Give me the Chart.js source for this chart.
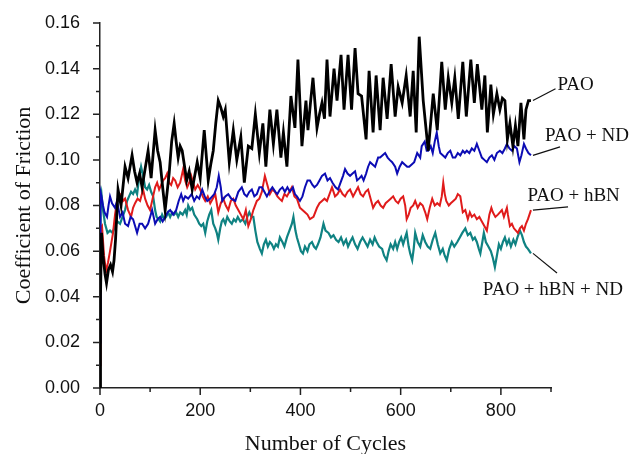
<!DOCTYPE html>
<html>
<head>
<meta charset="utf-8">
<script src="https://cdn.jsdelivr.net/npm/chart.js@4/dist/chart.umd.min.js"></script>
<style>
  html, body { margin: 0; padding: 0; background: #fff; }
  #wrap { width: 641px; height: 454px; }
</style>
</head>
<body>
<div id="wrap"><canvas id="cofChart" width="641" height="454"></canvas></div>
<script>
// [cycle, coefficient of friction]
const pao = [[0,0.000],[1,0.040],[3,0.068],[6,0.058],[10,0.050],[13,0.046],[17,0.052],[21,0.054],[25,0.051],[28,0.056],[31,0.065],[36,0.087],[42,0.080],[50,0.097],[56,0.092],[64,0.102],[69,0.095],[74,0.090],[79,0.094],[84,0.088],[90,0.096],[96,0.104],[102,0.092],[110,0.113],[115,0.104],[120,0.099],[125,0.088],[130,0.078],[138,0.094],[143,0.108],[148,0.116],[152,0.108],[156,0.101],[160,0.106],[164,0.104],[173,0.091],[178,0.095],[184,0.087],[189,0.093],[194,0.099],[200,0.092],[208,0.113],[216,0.091],[221,0.098],[226,0.104],[231,0.116],[236,0.126],[241,0.123],[246,0.119],[250,0.122],[258,0.099],[266,0.113],[273,0.100],[281,0.110],[288,0.090],[296,0.106],[303,0.105],[310,0.120],[318,0.103],[325,0.116],[331,0.097],[339,0.122],[346,0.107],[353,0.122],[361,0.101],[366,0.112],[373,0.097],[381,0.128],[389,0.114],[395,0.144],[403,0.106],[411,0.126],[415,0.113],[420,0.125],[425,0.136],[433,0.114],[438,0.120],[443,0.125],[448,0.118],[453,0.144],[459,0.119],[467,0.140],[473,0.126],[481,0.146],[487,0.122],[495,0.146],[502,0.122],[509,0.149],[515,0.129],[522,0.128],[531,0.109],[537,0.139],[545,0.112],[551,0.137],[559,0.113],[565,0.136],[573,0.118],[581,0.142],[589,0.119],[595,0.132],[603,0.125],[611,0.137],[619,0.119],[625,0.139],[631,0.112],[637,0.154],[645,0.126],[655,0.104],[665,0.129],[673,0.113],[682,0.143],[689,0.122],[695,0.136],[702,0.125],[708,0.136],[715,0.118],[724,0.143],[731,0.119],[740,0.144],[747,0.125],[753,0.142],[762,0.122],[768,0.137],[773,0.112],[780,0.133],[785,0.120],[792,0.129],[798,0.122],[803,0.127],[808,0.126],[813,0.109],[818,0.116],[824,0.106],[829,0.115],[834,0.106],[840,0.125],[846,0.109],[850,0.122],[855,0.126],[860,0.126]];

const paoNd = [[0,0.020],[1,0.086],[3,0.084],[6,0.080],[9,0.077],[14,0.075],[17,0.080],[20,0.084],[24,0.081],[30,0.079],[34,0.082],[40,0.075],[45,0.077],[50,0.072],[56,0.071],[61,0.075],[66,0.074],[70,0.071],[74,0.068],[79,0.072],[84,0.072],[90,0.070],[96,0.072],[100,0.075],[104,0.078],[110,0.072],[115,0.074],[120,0.075],[125,0.073],[130,0.075],[135,0.077],[140,0.078],[146,0.076],[152,0.078],[157,0.082],[162,0.085],[166,0.082],[170,0.084],[176,0.083],[183,0.085],[188,0.082],[193,0.084],[198,0.083],[204,0.087],[209,0.084],[214,0.082],[220,0.083],[228,0.085],[233,0.088],[237,0.093],[241,0.088],[244,0.082],[250,0.084],[256,0.085],[262,0.083],[270,0.082],[276,0.086],[283,0.088],[288,0.085],[293,0.084],[298,0.086],[303,0.087],[308,0.084],[313,0.085],[318,0.088],[323,0.088],[328,0.086],[333,0.084],[338,0.086],[344,0.088],[350,0.086],[354,0.085],[359,0.087],[364,0.088],[369,0.086],[374,0.088],[379,0.086],[385,0.088],[389,0.085],[393,0.084],[399,0.082],[404,0.084],[409,0.088],[414,0.091],[419,0.091],[424,0.089],[428,0.088],[433,0.089],[438,0.091],[443,0.093],[449,0.094],[454,0.091],[459,0.092],[464,0.090],[470,0.088],[475,0.087],[480,0.090],[485,0.093],[489,0.096],[494,0.094],[499,0.093],[504,0.094],[509,0.095],[513,0.091],[518,0.092],[522,0.093],[526,0.091],[531,0.094],[535,0.097],[539,0.099],[544,0.098],[549,0.097],[555,0.101],[559,0.101],[564,0.102],[569,0.103],[574,0.101],[578,0.100],[583,0.099],[589,0.097],[593,0.094],[598,0.097],[603,0.099],[608,0.098],[613,0.097],[617,0.097],[622,0.098],[627,0.099],[633,0.103],[639,0.101],[642,0.106],[648,0.108],[652,0.104],[655,0.104],[660,0.106],[664,0.103],[668,0.108],[672,0.112],[676,0.106],[679,0.103],[684,0.102],[689,0.101],[694,0.103],[699,0.104],[704,0.101],[709,0.101],[714,0.103],[719,0.102],[724,0.104],[728,0.103],[732,0.104],[737,0.103],[742,0.105],[747,0.104],[752,0.107],[757,0.104],[762,0.101],[767,0.100],[772,0.099],[777,0.101],[782,0.102],[787,0.100],[792,0.103],[798,0.104],[803,0.103],[808,0.105],[812,0.107],[817,0.105],[822,0.104],[827,0.106],[832,0.105],[837,0.099],[841,0.102],[846,0.107],[850,0.105],[855,0.103],[860,0.102]];

const paoHbn = [[0,0.010],[1,0.070],[4,0.071],[8,0.058],[12,0.051],[16,0.055],[20,0.060],[26,0.068],[30,0.076],[34,0.082],[38,0.084],[42,0.085],[46,0.082],[50,0.083],[56,0.078],[62,0.075],[66,0.079],[70,0.081],[75,0.083],[80,0.082],[86,0.087],[90,0.083],[95,0.080],[100,0.078],[105,0.083],[110,0.088],[114,0.090],[118,0.087],[122,0.089],[126,0.091],[130,0.092],[134,0.094],[138,0.090],[142,0.089],[146,0.092],[150,0.091],[155,0.088],[160,0.090],[166,0.096],[170,0.091],[174,0.088],[178,0.090],[182,0.093],[186,0.090],[190,0.087],[195,0.089],[200,0.087],[205,0.084],[210,0.082],[215,0.084],[220,0.081],[225,0.083],[230,0.085],[236,0.077],[241,0.081],[246,0.083],[251,0.080],[256,0.078],[261,0.082],[266,0.083],[271,0.080],[276,0.078],[281,0.076],[286,0.074],[291,0.078],[296,0.071],[301,0.074],[306,0.078],[313,0.082],[318,0.083],[323,0.086],[329,0.093],[334,0.089],[339,0.085],[344,0.087],[349,0.086],[354,0.084],[358,0.083],[363,0.082],[368,0.085],[373,0.084],[378,0.086],[383,0.088],[388,0.084],[393,0.083],[399,0.079],[404,0.078],[409,0.077],[414,0.076],[419,0.074],[426,0.075],[433,0.079],[438,0.081],[443,0.082],[448,0.083],[453,0.082],[458,0.085],[463,0.088],[469,0.084],[474,0.085],[479,0.087],[484,0.085],[489,0.084],[494,0.086],[499,0.087],[505,0.084],[510,0.086],[515,0.088],[520,0.085],[525,0.084],[530,0.086],[535,0.087],[540,0.083],[545,0.079],[550,0.081],[555,0.082],[560,0.080],[565,0.079],[570,0.081],[575,0.082],[580,0.083],[585,0.084],[590,0.082],[595,0.081],[600,0.083],[605,0.084],[609,0.080],[612,0.074],[616,0.076],[620,0.079],[625,0.080],[629,0.082],[634,0.079],[639,0.081],[644,0.080],[649,0.077],[653,0.074],[658,0.079],[663,0.083],[668,0.080],[673,0.081],[678,0.080],[682,0.084],[685,0.090],[688,0.085],[691,0.082],[696,0.080],[700,0.081],[705,0.082],[710,0.083],[714,0.085],[719,0.084],[724,0.077],[729,0.078],[734,0.074],[738,0.077],[742,0.075],[747,0.076],[752,0.074],[757,0.075],[762,0.073],[767,0.071],[772,0.069],[777,0.076],[781,0.079],[784,0.077],[789,0.075],[794,0.076],[798,0.077],[802,0.078],[806,0.075],[812,0.079],[814,0.076],[818,0.071],[822,0.072],[826,0.070],[830,0.069],[834,0.068],[838,0.070],[842,0.071],[846,0.069],[850,0.072],[854,0.074],[857,0.076],[860,0.078]];

const paoHbnNd = [[0,0.030],[1,0.082],[3,0.085],[6,0.078],[10,0.072],[15,0.068],[20,0.069],[25,0.068],[30,0.071],[35,0.073],[40,0.072],[45,0.075],[50,0.078],[54,0.082],[58,0.084],[62,0.086],[66,0.085],[70,0.087],[74,0.085],[78,0.092],[82,0.097],[86,0.093],[90,0.088],[94,0.087],[98,0.089],[102,0.086],[106,0.084],[110,0.078],[113,0.075],[117,0.074],[120,0.073],[124,0.076],[128,0.074],[132,0.075],[136,0.077],[140,0.075],[144,0.077],[148,0.076],[152,0.077],[156,0.075],[160,0.077],[165,0.076],[170,0.078],[173,0.076],[176,0.080],[180,0.078],[184,0.079],[188,0.076],[194,0.074],[198,0.072],[202,0.071],[206,0.072],[210,0.068],[214,0.073],[218,0.076],[222,0.078],[226,0.072],[230,0.070],[233,0.068],[236,0.065],[240,0.070],[243,0.073],[246,0.074],[250,0.072],[254,0.075],[259,0.073],[263,0.072],[267,0.074],[271,0.073],[275,0.075],[280,0.073],[285,0.074],[290,0.072],[294,0.075],[298,0.077],[302,0.075],[306,0.075],[310,0.069],[314,0.064],[319,0.061],[323,0.059],[327,0.063],[331,0.065],[335,0.062],[339,0.064],[343,0.063],[347,0.061],[351,0.063],[355,0.062],[359,0.066],[364,0.064],[368,0.062],[373,0.066],[378,0.069],[383,0.072],[386,0.075],[390,0.069],[393,0.066],[397,0.063],[401,0.060],[405,0.059],[409,0.062],[414,0.060],[418,0.063],[423,0.064],[427,0.062],[431,0.061],[435,0.063],[440,0.066],[446,0.072],[450,0.069],[456,0.068],[461,0.066],[466,0.067],[471,0.065],[476,0.064],[481,0.066],[486,0.063],[491,0.065],[495,0.062],[499,0.064],[504,0.066],[509,0.063],[514,0.061],[519,0.064],[524,0.066],[529,0.064],[534,0.062],[539,0.065],[544,0.063],[548,0.066],[552,0.064],[557,0.062],[563,0.061],[567,0.058],[572,0.056],[576,0.060],[580,0.063],[585,0.061],[589,0.064],[593,0.061],[597,0.064],[601,0.066],[605,0.063],[609,0.066],[612,0.068],[616,0.062],[619,0.059],[623,0.056],[626,0.061],[629,0.068],[634,0.064],[639,0.062],[644,0.067],[649,0.064],[654,0.062],[659,0.061],[664,0.065],[669,0.068],[674,0.063],[679,0.059],[684,0.061],[688,0.058],[692,0.056],[697,0.061],[702,0.064],[707,0.062],[713,0.064],[718,0.066],[723,0.068],[729,0.070],[734,0.067],[739,0.068],[744,0.065],[748,0.066],[752,0.064],[756,0.061],[759,0.059],[763,0.064],[766,0.068],[770,0.064],[775,0.062],[780,0.060],[784,0.057],[788,0.053],[792,0.058],[796,0.063],[800,0.061],[804,0.064],[808,0.066],[812,0.063],[816,0.065],[820,0.062],[825,0.065],[829,0.063],[833,0.066],[838,0.069],[842,0.067],[846,0.064],[850,0.062],[854,0.061],[857,0.060],[860,0.059]];

const seriesNames = ["PAO", "PAO + ND", "PAO + hBN", "PAO + hBN + ND"];
const seriesColors = ["#000000", "#0c0cb4", "#e01b1b", "#0f8282"];
const seriesWidths = [2.8, 2, 2, 2.2];

// callout labels: text at label point (data units), leader from end of curve to tip
const callouts = [
  { series: 0, label: [913, 0.1328], tip: [909, 0.1312] },
  { series: 1, label: [888, 0.1105], tip: [918, 0.1057] },
  { series: 2, label: [853, 0.0842], tip: [934, 0.0794] },
  { series: 3, label: [764, 0.0430], tip: [912, 0.0504] },
];

const allSeries = [pao, paoNd, paoHbn, paoHbnNd];

const sansFont = "'Liberation Sans', Arial, sans-serif";
const serifFont = "'Liberation Serif', 'Times New Roman', serif";

const axisTicks = {
  id: "axisTicks",
  afterDraw(chart) {
    const ctx = chart.ctx;
    const xs = chart.scales.x, ys = chart.scales.y;
    const area = chart.chartArea;
    ctx.save();
    ctx.strokeStyle = "#222";
    ctx.lineWidth = 1.5;
    ctx.beginPath();
    xs.ticks.forEach((t) => {
      const px = xs.getPixelForValue(t.value);
      const len = Math.round(t.value) % 200 === 0 ? 7 : 4;
      ctx.moveTo(px, area.bottom);
      ctx.lineTo(px, area.bottom + len);
    });
    ys.ticks.forEach((t) => {
      const py = ys.getPixelForValue(t.value);
      const len = Math.round(t.value * 100) % 2 === 0 ? 7 : 4;
      ctx.moveTo(area.left, py);
      ctx.lineTo(area.left - len, py);
    });
    ctx.stroke();
    ctx.restore();
  },
};

const calloutLabels = {
  id: "calloutLabels",
  afterDatasetsDraw(chart) {
    const ctx = chart.ctx;
    const xs = chart.scales.x, ys = chart.scales.y;
    ctx.save();
    ctx.lineWidth = 1.2;
    ctx.strokeStyle = "#111";
    ctx.fillStyle = "#111";
    ctx.font = "19px " + serifFont;
    ctx.textAlign = "left";
    ctx.textBaseline = "middle";
    callouts.forEach((c) => {
      const pts = allSeries[c.series];
      const last = pts[pts.length - 1];
      const sx = xs.getPixelForValue(last[0]) + 2;
      const sy = ys.getPixelForValue(last[1]);
      ctx.beginPath();
      ctx.moveTo(sx, sy);
      ctx.lineTo(xs.getPixelForValue(c.tip[0]), ys.getPixelForValue(c.tip[1]));
      ctx.stroke();
      ctx.fillText(seriesNames[c.series], xs.getPixelForValue(c.label[0]), ys.getPixelForValue(c.label[1]));
    });
    ctx.restore();
  },
};

const config = {
  type: "line",
  data: {
    datasets: allSeries.map((s, i) => ({
      label: seriesNames[i],
      data: s.map((p) => ({ x: p[0], y: p[1] })),
      borderColor: seriesColors[i],
      backgroundColor: seriesColors[i],
      borderWidth: seriesWidths[i],
      pointRadius: 0,
      tension: 0,
      fill: false,
    })),
  },
  options: {
    responsive: false,
    animation: false,
    layout: { padding: { left: 0, right: 90, top: 23, bottom: 0 } },
    plugins: {
      legend: { display: false },
      tooltip: { enabled: false },
    },
    scales: {
      x: {
        type: "linear",
        min: 0,
        max: 900,
        grid: { display: false },
        border: { display: true, color: "#222", width: 1.5 },
        ticks: {
          stepSize: 100,
          autoSkip: false,
          maxRotation: 0,
          padding: 4,
          color: "#111",
          font: { family: sansFont, size: 18 },
          callback: (v) => (Math.round(v) % 200 === 0 && v <= 800 ? String(v) : ""),
        },
        title: {
          display: true,
          text: "Number of Cycles",
          color: "#111",
          font: { family: serifFont, size: 22 },
          padding: { top: 0, bottom: -3 },
        },
        afterFit: (scale) => { scale.height = 66; },
      },
      y: {
        type: "linear",
        min: 0,
        max: 0.16,
        grid: { display: false },
        border: { display: true, color: "#222", width: 1.5 },
        ticks: {
          stepSize: 0.01,
          autoSkip: false,
          padding: 12,
          color: "#111",
          font: { family: sansFont, size: 18 },
          callback: (v) => (Math.round(v * 100) % 2 === 0 ? v.toFixed(2) : ""),
        },
        title: {
          display: true,
          text: "Coefficient of Friction",
          color: "#111",
          font: { family: serifFont, size: 22 },
          padding: { top: 11, bottom: 0 },
        },
        afterFit: (scale) => { scale.width = 100; },
      },
    },
  },
  plugins: [axisTicks, calloutLabels],
};

new Chart(document.getElementById("cofChart"), config);
</script>
</body>
</html>
